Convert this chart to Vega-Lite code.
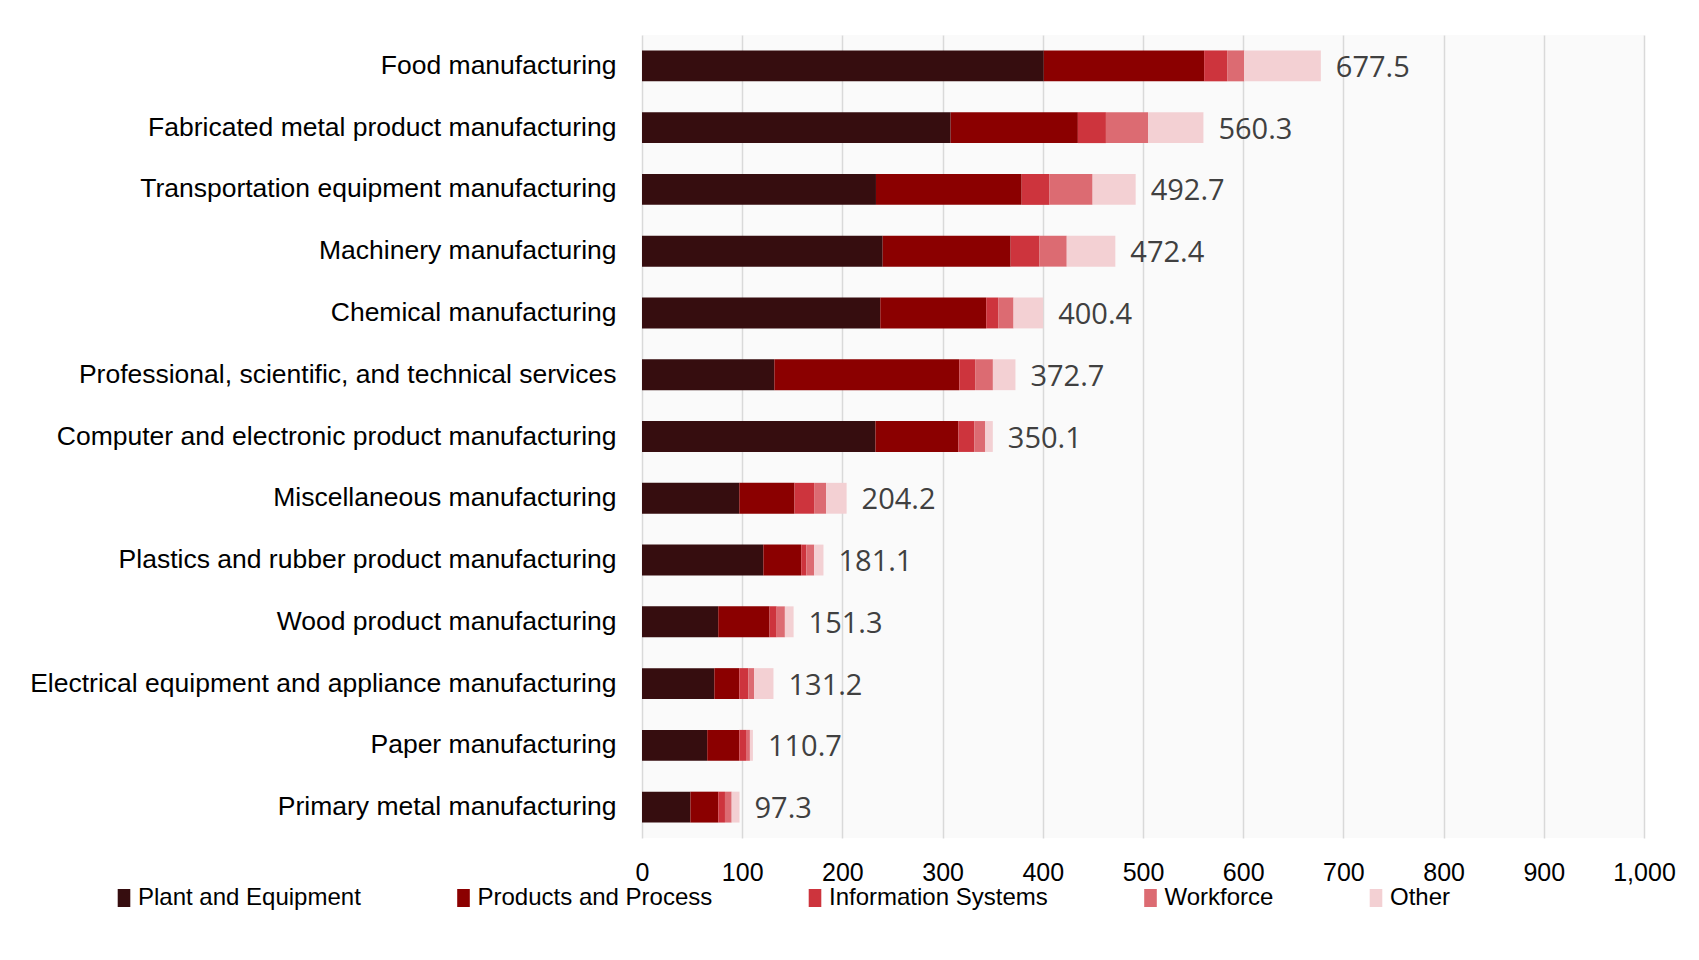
{
  "$schema": "https://vega.github.io/schema/vega-lite/v6.json",
  "autosize": {"type": "none"},
  "padding": {"left": 642, "top": 35, "right": 55, "bottom": 122},
  "width": 1002,
  "height": 803,
  "background": "#ffffff",
  "config": {
    "view": {"fill": "#FAFAFA", "stroke": null},
    "font": "Liberation Sans"
  },
  "data": {
    "values": [
      {"industry": "Food manufacturing", "Plant and Equipment": 401, "Products and Process": 160, "Information Systems": 23, "Workforce": 17, "Other": 76.5, "total": 677.5},
      {"industry": "Fabricated metal product manufacturing", "Plant and Equipment": 308, "Products and Process": 127, "Information Systems": 28, "Workforce": 42, "Other": 55.3, "total": 560.3},
      {"industry": "Transportation equipment manufacturing", "Plant and Equipment": 233.5, "Products and Process": 145.4, "Information Systems": 27.8, "Workforce": 43, "Other": 43, "total": 492.7},
      {"industry": "Machinery manufacturing", "Plant and Equipment": 240.2, "Products and Process": 127.7, "Information Systems": 28.8, "Workforce": 27.2, "Other": 48.5, "total": 472.4},
      {"industry": "Chemical manufacturing", "Plant and Equipment": 237.8, "Products and Process": 105.7, "Information Systems": 12, "Workforce": 15.3, "Other": 29.6, "total": 400.4},
      {"industry": "Professional, scientific, and technical services", "Plant and Equipment": 132.1, "Products and Process": 184.6, "Information Systems": 15.8, "Workforce": 17.7, "Other": 22.5, "total": 372.7},
      {"industry": "Computer and electronic product manufacturing", "Plant and Equipment": 233, "Products and Process": 82.8, "Information Systems": 15.8, "Workforce": 11, "Other": 7.5, "total": 350.1},
      {"industry": "Miscellaneous manufacturing", "Plant and Equipment": 97.1, "Products and Process": 55.1, "Information Systems": 19.6, "Workforce": 11.9, "Other": 20.5, "total": 204.2},
      {"industry": "Plastics and rubber product manufacturing", "Plant and Equipment": 121.1, "Products and Process": 37.8, "Information Systems": 5.2, "Workforce": 7.7, "Other": 9.3, "total": 181.1},
      {"industry": "Wood product manufacturing", "Plant and Equipment": 76.1, "Products and Process": 51.2, "Information Systems": 7.1, "Workforce": 8.2, "Other": 8.7, "total": 151.3},
      {"industry": "Electrical equipment and appliance manufacturing", "Plant and Equipment": 72.2, "Products and Process": 24.9, "Information Systems": 9.1, "Workforce": 5.8, "Other": 19.2, "total": 131.2},
      {"industry": "Paper manufacturing", "Plant and Equipment": 65.1, "Products and Process": 32, "Information Systems": 6.7, "Workforce": 3.9, "Other": 3, "total": 110.7},
      {"industry": "Primary metal manufacturing", "Plant and Equipment": 48.3, "Products and Process": 27.8, "Information Systems": 6.7, "Workforce": 6.7, "Other": 7.8, "total": 97.3}
    ]
  },
  "encoding": {
    "y": {
      "field": "industry",
      "type": "nominal",
      "sort": null,
      "scale": {"paddingInner": 0.5, "paddingOuter": 0.25},
      "axis": {
        "title": null,
        "domain": false,
        "ticks": false,
        "labelFontSize": 26.5,
        "labelColor": "#000000",
        "labelPadding": 26,
        "labelLimit": 1000,
        "labelOverlap": false
      }
    }
  },
  "layer": [
    {
      "transform": [
        {"fold": ["Plant and Equipment", "Products and Process", "Information Systems", "Workforce", "Other"], "as": ["component", "value"]},
        {"window": [{"op": "row_number", "as": "seg"}], "groupby": ["industry"]}
      ],
      "mark": {"type": "bar"},
      "encoding": {
        "x": {
          "field": "value",
          "type": "quantitative",
          "stack": "zero",
          "scale": {"domain": [0, 1000], "nice": false},
          "axis": {
            "title": null,
            "format": ",.0f",
            "values": [0, 100, 200, 300, 400, 500, 600, 700, 800, 900, 1000],
            "domain": false,
            "ticks": false,
            "grid": true,
            "gridColor": "#D9D9D9",
            "gridWidth": 1.5,
            "labelFontSize": 25,
            "labelColor": "#000000",
            "labelPadding": 22,
            "labelFlush": false,
            "labelOverlap": false
          }
        },
        "color": {
          "field": "component",
          "type": "nominal",
          "scale": {
            "domain": ["Plant and Equipment", "Products and Process", "Information Systems", "Workforce", "Other"],
            "range": ["#360D0F", "#8B0000", "#CD343D", "#DC6B72", "#F3D0D3"]
          },
          "legend": {
            "title": null,
            "orient": "none",
            "direction": "horizontal",
            "columns": 5,
            "legendX": -530,
            "legendY": 851,
            "columnPadding": 90.5,
            "symbolType": "M-0.7,-1H0.7V1H-0.7Z",
            "symbolSize": 324,
            "symbolStrokeWidth": 0,
            "labelFontSize": 24,
            "labelColor": "#000000",
            "labelOffset": 2,
            "labelLimit": 1000
          }
        },
        "order": {"field": "seg", "type": "quantitative"}
      }
    },
    {
      "mark": {"type": "text", "align": "left", "baseline": "middle", "dx": 15, "dy": 2, "font": "Open Sans", "fontSize": 29, "color": "#404040"},
      "encoding": {
        "x": {"field": "total", "type": "quantitative"},
        "text": {"field": "total", "type": "quantitative", "format": ".1f"}
      }
    }
  ]
}
